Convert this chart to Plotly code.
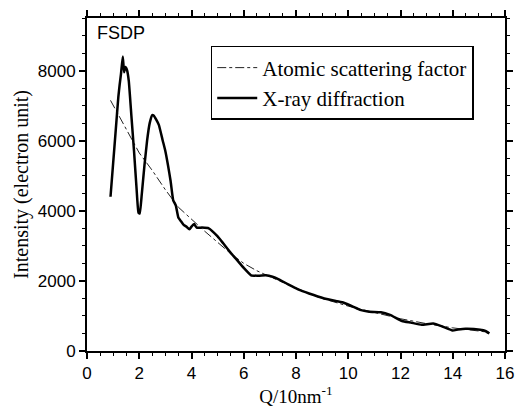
import plotly.graph_objects as go

# X-ray diffraction intensity
q_xrd = [0.9, 1.0, 1.1, 1.2, 1.25, 1.3, 1.37, 1.42, 1.47, 1.53, 1.6, 1.7, 1.8, 1.9, 1.97,
         2.02, 2.1, 2.2, 2.3, 2.4, 2.5, 2.55, 2.65, 2.75, 2.9, 3.0, 3.1, 3.2, 3.3, 3.4,
         3.5, 3.6, 3.7, 3.8, 3.92, 4.0, 4.1, 4.2, 4.4, 4.66, 5.0, 5.22, 5.5, 5.72, 6.0,
         6.28, 6.6, 6.84, 7.1, 7.34, 7.7, 8.08, 8.5, 9.08, 9.57, 9.83, 10.2, 10.45, 10.8,
         11.25, 11.6, 12.06, 12.4, 12.81, 13.25, 13.6, 13.99, 14.2, 14.49, 15.05, 15.25, 15.4]
i_xrd = [4400, 5350, 6300, 7250, 7600, 7900, 8400, 7950, 8100, 8020, 7700, 6700, 5700, 4600, 3950,
         3920, 4500, 5300, 6000, 6500, 6730, 6720, 6600, 6450, 6000, 5700, 5300, 4850, 4300, 4150,
         3800, 3700, 3600, 3550, 3470, 3550, 3620, 3520, 3520, 3500, 3270, 3065, 2800, 2614, 2370,
         2160, 2150, 2160, 2120, 2046, 1900, 1757, 1640, 1500, 1420, 1378, 1260, 1173, 1120,
         1108, 1030, 857, 810, 749, 784, 700, 586, 610, 632, 605, 570, 497]

# Atomic scattering factor (smooth reference curve)
q_asf = [0.9, 1.5, 2.0, 2.5, 3.0, 3.5, 4.0, 4.5, 5.0, 5.5, 6.0, 6.5, 7.0, 7.5, 8.0, 8.5,
         9.0, 9.5, 10.0, 11.0, 12.0, 13.0, 14.0, 15.0, 15.4]
i_asf = [7150, 6350, 5650, 5150, 4600, 4100, 3750, 3420, 3100, 2780, 2500, 2290, 2120, 1960, 1780, 1640,
         1500, 1390, 1280, 1100, 920, 780, 660, 570, 530]

serif = "Liberation Serif"
sans = "Liberation Sans"

fig = go.Figure()
fig.add_trace(go.Scatter(
    x=q_asf, y=i_asf, mode="lines", name="Atomic scattering factor",
    line=dict(color="#222", width=1, dash="dashdot"),
))
fig.add_trace(go.Scatter(
    x=q_xrd, y=i_xrd, mode="lines", name="X-ray diffraction",
    line=dict(color="black", width=2.5, shape="spline", smoothing=0.4),
))

fig.add_annotation(
    x=0.02, y=0.99, xref="paper", yref="paper", xanchor="left", yanchor="top",
    text="FSDP", showarrow=False, font=dict(family=sans, size=18, color="black"),
)

fig.update_layout(
    template="simple_white",
    width=524, height=409,
    paper_bgcolor="white", plot_bgcolor="white",
    margin=dict(l=87, r=10, t=13, b=47),
    showlegend=True,
    legend=dict(
        x=0.296, y=0.916, xanchor="left", yanchor="top",
        bordercolor="black", borderwidth=1.5, bgcolor="white",
        font=dict(family=serif, size=21, color="black"),
        tracegroupgap=0, itemwidth=40,
    ),
)

axis_common = dict(
    showline=True, linecolor="black", linewidth=2, mirror="allticks",
    ticklen=6, tickwidth=1.5, tickcolor="black",
    showgrid=False, zeroline=False,
    tickfont=dict(family=sans, size=17, color="black"),
)

fig.update_xaxes(
    range=[0, 16], dtick=2, tick0=0, ticks="outside",
    title=dict(text="Q/10nm<sup>-1</sup>", font=dict(family=serif, size=19, color="black"), standoff=2),
    minor=dict(dtick=0.5, ticks="outside", ticklen=3, tickcolor="black", tickwidth=1.2),
    **axis_common,
)
fig.update_yaxes(
    range=[0, 9500], dtick=2000, tick0=0, ticks="outside",
    title=dict(text="Intensity (electron unit)", font=dict(family=serif, size=20, color="black"), standoff=4),
    minor=dict(dtick=500, ticks="outside", ticklen=3, tickcolor="black", tickwidth=1.2),
    **axis_common,
)

fig.write_html("out.html", config={"displayModeBar": False},
               post_script="document.body.style.margin='0';")
